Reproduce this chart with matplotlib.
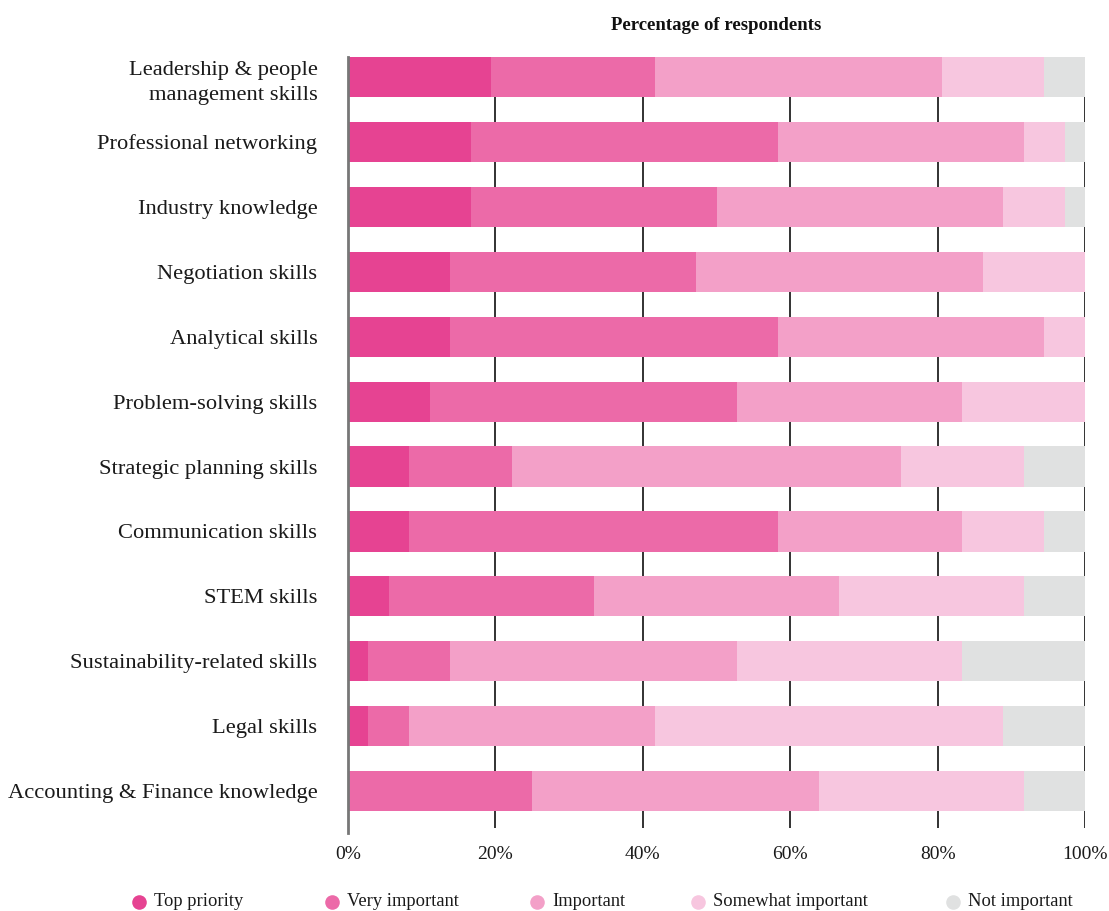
import matplotlib
matplotlib.use("Agg")
import matplotlib.pyplot as plt
from matplotlib.lines import Line2D

plt.rcParams['font.family'] = ['Liberation Serif', 'DejaVu Serif']

categories = [
    "Leadership & people\nmanagement skills",
    "Professional networking",
    "Industry knowledge",
    "Negotiation skills",
    "Analytical skills",
    "Problem-solving skills",
    "Strategic planning skills",
    "Communication skills",
    "STEM skills",
    "Sustainability-related skills",
    "Legal skills",
    "Accounting & Finance knowledge",
]

series_names = ["Top priority", "Very important", "Important",
                "Somewhat important", "Not important"]

# Share of respondents (%) per rating level
top_priority = [19.44, 16.67, 16.67, 13.89, 13.89, 11.11, 8.33, 8.33, 5.56, 2.78, 2.78, 0.00]
very_important = [22.22, 41.67, 33.33, 33.33, 44.44, 41.67, 13.89, 50.00, 27.78, 11.11, 5.56, 25.00]
important = [38.89, 33.33, 38.89, 38.89, 36.11, 30.56, 52.78, 25.00, 33.33, 38.89, 33.33, 38.89]
somewhat_important = [13.89, 5.56, 8.33, 13.89, 5.56, 16.67, 16.67, 11.11, 25.00, 30.56, 47.22, 27.78]
not_important = [5.56, 2.78, 2.78, 0.00, 0.00, 0.00, 8.33, 5.56, 8.33, 16.67, 11.11, 8.33]

series = [top_priority, very_important, important, somewhat_important, not_important]
colors = ["#E64392", "#EC6AA8", "#F3A0C8", "#F7C6DF", "#E0E1E1"]
tick_values = [0, 20, 40, 60, 80, 100]
tick_labels = ["0%", "20%", "40%", "60%", "80%", "100%"]

fig = plt.figure(figsize=(11.09, 9.11), dpi=100)
ax = fig.add_axes([0.3138, 0.0911, 0.6646, 0.8463])

y = list(range(len(categories)))
left = [0.0] * len(categories)
for vals, name, col in zip(series, series_names, colors):
    ax.barh(y, vals, left=left, height=0.62, color=col, label=name, zorder=3)
    left = [l + v for l, v in zip(left, vals)]

ax.set_xlim(0, 100)
ax.set_ylim(11.57, -0.31)
ax.set_yticks(y)
ax.set_yticklabels(categories, fontsize=16.2, color="#1a1a1a", linespacing=1.45)
ax.set_xticks(tick_values)
ax.set_xticklabels(tick_labels, fontsize=14, color="#1a1a1a")
ax.tick_params(axis="both", length=0)
ax.tick_params(axis="x", pad=13)
ax.tick_params(axis="y", pad=22)

for s in ax.spines.values():
    s.set_visible(False)

ax.xaxis.grid(True, color="#222222", linewidth=1.3, zorder=0)
ax.set_axisbelow(True)
ax.axvline(0, color="#777777", linewidth=2, zorder=4, ymin=-0.006, clip_on=False)

fig.text(0.6458, 0.972, "Percentage of respondents", ha="center", va="center",
         fontsize=13.5, fontweight="bold", color="#111111")

legend_x = [139, 332, 537, 698, 953]
legend_y = 1 - 902 / 911
for xp, name, col in zip(legend_x, series_names, colors):
    fig.add_artist(Line2D([xp / 1109], [legend_y], marker="o", markersize=10.5,
                          markerfacecolor=col, markeredgecolor="none", linestyle="none",
                          transform=fig.transFigure))
    fig.text((xp + 15) / 1109, legend_y, name, ha="left", va="center",
             fontsize=13.3, color="#1a1a1a")

fig.savefig("out.png", dpi=100, facecolor="white")
